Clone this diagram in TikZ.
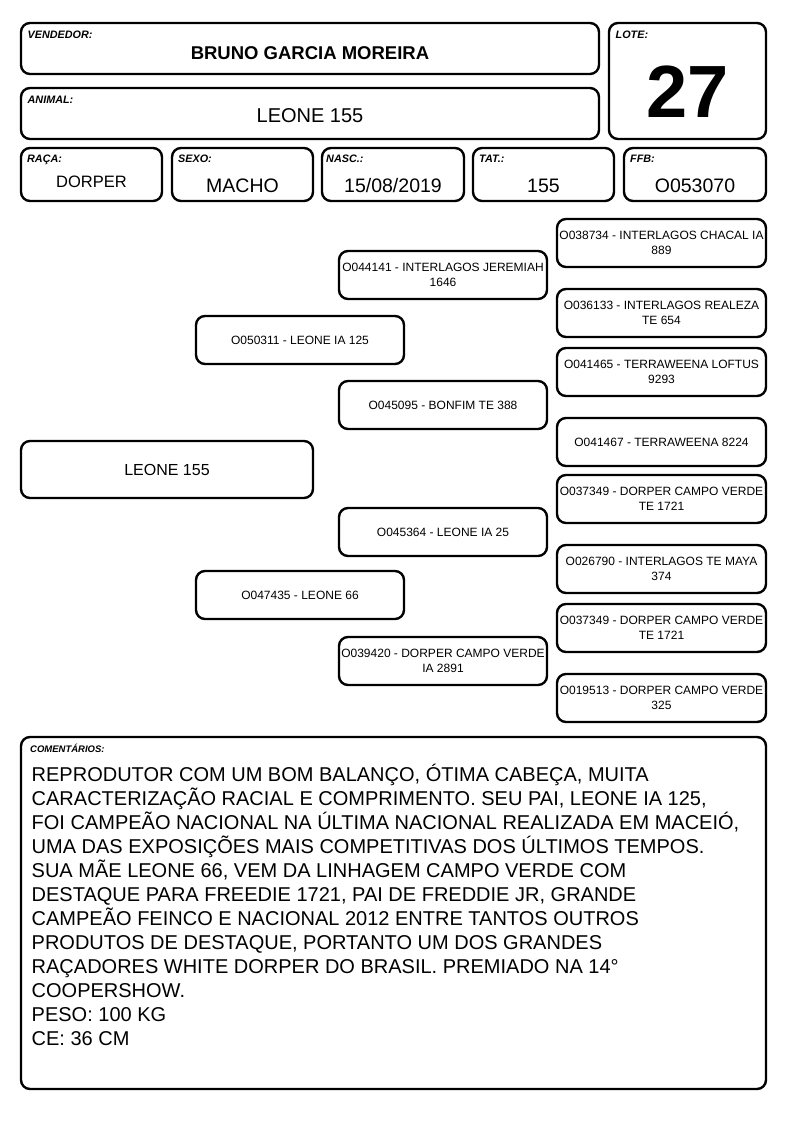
\documentclass[tikz,border=0pt]{standalone}
\usepackage{fontspec}
\setmainfont{Liberation Sans}

\tikzset{
  card/.style={draw, line width=2.4pt, rounded corners=9pt, inner sep=0pt, outer sep=0pt, anchor=north west},
  tag/.style={font=\fontsize{10.8}{12}\selectfont\bfseries\itshape, anchor=base west, inner sep=0pt},
  value/.style={font=\fontsize{19.5}{22}\selectfont, anchor=base, inner sep=0pt},
  pedbox/.style={card, minimum width=208, minimum height=48, align=center, font=\fontsize{12}{15}\selectfont},
  farbox/.style={pedbox, minimum width=209},
}

\begin{document}
\begin{tikzpicture}[x=1pt, y=-1pt]
    \useasboundingbox (0,0) rectangle (794,1123);

    % Header cards
    \node[card, minimum width=578, minimum height=51] (vendedor) at (21,23) {};
    \node[card, minimum width=157, minimum height=116] (lote) at (609,23) {};
    \node[card, minimum width=578, minimum height=51] (animal) at (21,88) {};
    \node[card, minimum width=141, minimum height=53] (raca) at (21,148) {};
    \node[card, minimum width=141, minimum height=53] (sexo) at (172,148) {};
    \node[card, minimum width=142, minimum height=53] (nasc) at (322,148) {};
    \node[card, minimum width=141, minimum height=53] (tat) at (473,148) {};
    \node[card, minimum width=142, minimum height=53] (ffb) at (624,148) {};

    % Field labels
    \node[tag] at ([shift={(6.5pt,-16pt)}]vendedor.north west) {VENDEDOR:};
    \node[tag] at ([shift={(6.5pt,-16pt)}]lote.north west) {LOTE:};
    \node[tag] at ([shift={(6.5pt,-16pt)}]animal.north west) {ANIMAL:};
    \node[tag] at ([shift={(6pt,-15pt)}]raca.north west) {RAÇA:};
    \node[tag] at ([shift={(6pt,-15pt)}]sexo.north west) {SEXO:};
    \node[tag] at ([shift={(4pt,-15pt)}]nasc.north west) {NASC.:};
    \node[tag] at ([shift={(6pt,-15pt)}]tat.north west) {TAT.:};
    \node[tag] at ([shift={(6pt,-15pt)}]ffb.north west) {FFB:};

    % Field values
    \node[value, font=\fontsize{18.5}{22}\selectfont\bfseries] at ([yshift=-11.5pt]vendedor.center) {BRUNO GARCIA MOREIRA};
    \node[value, font=\fontsize{74}{80}\selectfont\bfseries] at ([yshift=-37pt]lote.center) {27};
    \node[value, font=\fontsize{20}{22}\selectfont] at ([yshift=-9.5pt]animal.center) {LEONE 155};
    \node[value, font=\fontsize{16.5}{20}\selectfont] at ([yshift=-13.5pt]raca.center) {DORPER};
    \node[value] at ([yshift=-18.5pt]sexo.center) {MACHO};
    \node[value] at ([yshift=-18.5pt]nasc.center) {15/08/2019};
    \node[value] at ([yshift=-18.5pt]tat.center) {155};
    \node[value] at ([yshift=-18.5pt]ffb.center) {O053070};

    % Pedigree
    \node[pedbox, minimum width=292, minimum height=57, font=\fontsize{16}{19}\selectfont] (leone) at (21,441) {LEONE 155};
    \node[pedbox] (pai) at (196,316) {O050311 - LEONE IA 125};
    \node[pedbox] (mae) at (196,571) {O047435 - LEONE 66};
    \node[pedbox] (avopp) at (339,251) {O044141 - INTERLAGOS JEREMIAH\\1646};
    \node[pedbox] (avopm) at (339,381) {O045095 - BONFIM TE 388};
    \node[pedbox] (avomp) at (339,508) {O045364 - LEONE IA 25};
    \node[pedbox] (avomm) at (339,637) {O039420 - DORPER CAMPO VERDE\\IA 2891};
    \node[farbox] (bis1) at (557,219) {O038734 - INTERLAGOS CHACAL IA\\889};
    \node[farbox] (bis2) at (557,289) {O036133 - INTERLAGOS REALEZA\\TE 654};
    \node[farbox] (bis3) at (557,348) {O041465 - TERRAWEENA LOFTUS\\9293};
    \node[farbox] (bis4) at (557,418) {O041467 - TERRAWEENA 8224};
    \node[farbox] (bis5) at (557,475) {O037349 - DORPER CAMPO VERDE\\TE 1721};
    \node[farbox] (bis6) at (557,545) {O026790 - INTERLAGOS TE MAYA\\374};
    \node[farbox] (bis7) at (557,604) {O037349 - DORPER CAMPO VERDE\\TE 1721};
    \node[farbox] (bis8) at (557,674) {O019513 - DORPER CAMPO VERDE\\325};

    % Comments
    \node[card, minimum width=745, minimum height=352] (coment) at (21,737) {};
    \node[tag, font=\fontsize{9.5}{11}\selectfont\bfseries\itshape] at ([shift={(9pt,-15.5pt)}]coment.north west) {COMENTÁRIOS:};
    \node[anchor=base west, inner sep=0pt, align=left, font=\fontsize{20}{24}\selectfont] (texto) at (31.5,1045) {%
      REPRODUTOR COM UM BOM BALANÇO, ÓTIMA CABEÇA, MUITA\\
      CARACTERIZAÇÃO RACIAL E COMPRIMENTO. SEU PAI, LEONE IA 125,\\
      FOI CAMPEÃO NACIONAL NA ÚLTIMA NACIONAL REALIZADA EM MACEIÓ,\\
      UMA DAS EXPOSIÇÕES MAIS COMPETITIVAS DOS ÚLTIMOS TEMPOS.\\
      SUA MÃE LEONE 66, VEM DA LINHAGEM CAMPO VERDE COM\\
      DESTAQUE PARA FREEDIE 1721, PAI DE FREDDIE JR, GRANDE\\
      CAMPEÃO FEINCO E NACIONAL 2012 ENTRE TANTOS OUTROS\\
      PRODUTOS DE DESTAQUE, PORTANTO UM DOS GRANDES\\
      RAÇADORES WHITE DORPER DO BRASIL. PREMIADO NA 14°\\
      COOPERSHOW.\\
      PESO: 100 KG\\
      CE: 36 CM};
\end{tikzpicture}
\end{document}
